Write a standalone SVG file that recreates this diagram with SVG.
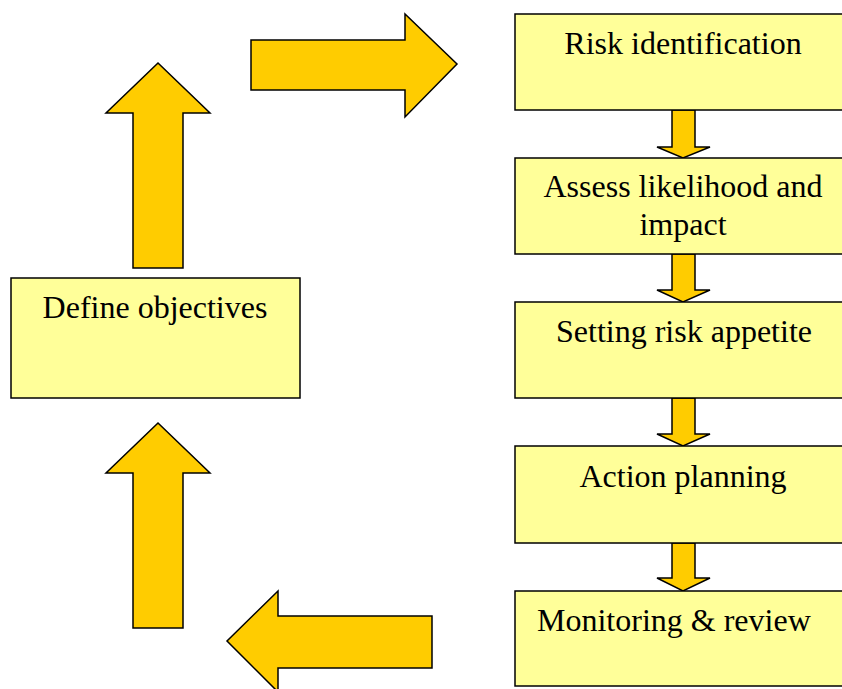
<svg xmlns="http://www.w3.org/2000/svg" width="842" height="689" viewBox="0 0 842 689">
<style>
.box{fill:#FFFF99;stroke:#000;stroke-width:1.5}
.arr{fill:#FFCC00;stroke:#000;stroke-width:1.5;stroke-linejoin:miter}
text{font-family:"Liberation Serif","Times New Roman",serif;font-size:32px;fill:#000}
.c{text-anchor:middle}
</style>
<rect width="842" height="689" fill="#fff"/>
<g id="connectors">
<polygon class="arr" points="251,40 405,40 405,14 457,64 405,117 405,90 251,90"/>
<polygon class="arr" points="133,268 133,113 106,113 158,63 210,113 183,113 183,268"/>
<polygon class="arr" points="133,628 133,473 106,473 158,423 210,473 183,473 183,628"/>
<polygon class="arr" points="432,616 278,616 278,591 227,641 278,692 278,668 432,668"/>
<polygon class="arr" points="672,110 695,110 695,147 710,147 683,158 657,147 672,147"/>
<polygon class="arr" points="672,254 695,254 695,290 710,290 683,302 657,290 672,290"/>
<polygon class="arr" points="672,398 695,398 695,434 710,434 683,446 657,434 672,434"/>
<polygon class="arr" points="672,543 695,543 695,578 710,578 683,591 657,578 672,578"/>
</g>
<g id="define-objectives">
<rect class="box" x="11" y="278" width="289" height="120"/>
<text class="c" x="155" y="318">Define objectives</text>
</g>
<g id="risk-identification">
<rect class="box" x="515" y="14" width="336" height="96"/>
<text class="c" x="683" y="54">Risk identification</text>
</g>
<g id="assess">
<rect class="box" x="515" y="158" width="336" height="96"/>
<text class="c" x="683" y="197">Assess likelihood and</text>
<text class="c" x="683" y="235">impact</text>
</g>
<g id="setting-risk-appetite">
<rect class="box" x="515" y="302" width="336" height="96"/>
<text class="c" x="684" y="342">Setting risk appetite</text>
</g>
<g id="action-planning">
<rect class="box" x="515" y="446" width="336" height="97"/>
<text class="c" x="683" y="487">Action planning</text>
</g>
<g id="monitoring-review">
<rect class="box" x="515" y="591" width="336" height="95"/>
<text x="537" y="631">Monitoring &amp; review</text>
</g>
</svg>
